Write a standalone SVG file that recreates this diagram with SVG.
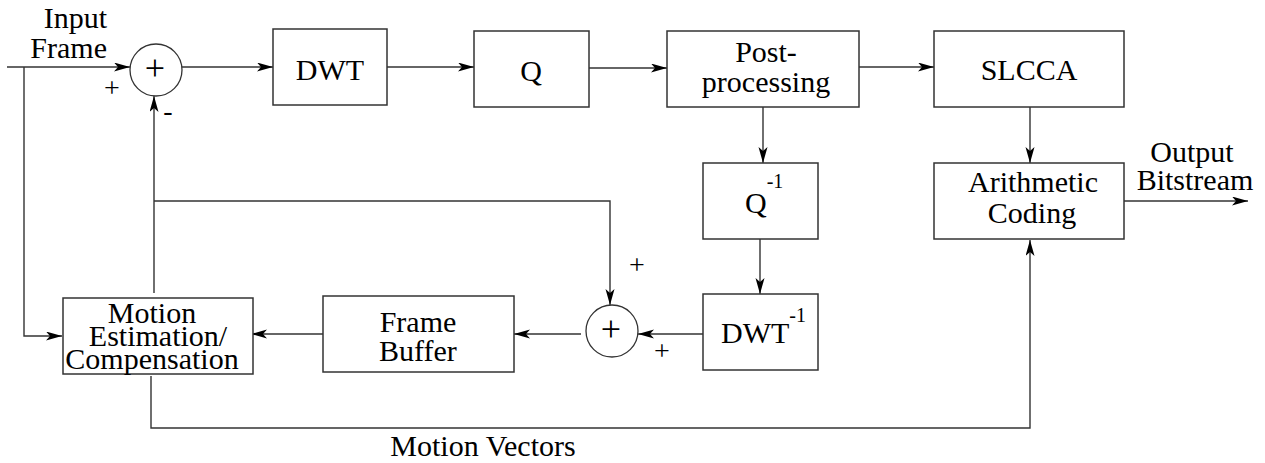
<svg xmlns="http://www.w3.org/2000/svg" width="1265" height="463" viewBox="0 0 1265 463">
<defs>
<style>
.box{fill:#fff;stroke:#333;stroke-width:1.5}
.sum{fill:#fff;stroke:#333;stroke-width:1.3}
.ln{fill:none;stroke:#333;stroke-width:1.4}
.ar{marker-end:url(#arr)}
text{font-family:"Liberation Serif","Times New Roman",serif;font-size:30px;fill:#000}
.c{text-anchor:middle}
.e{text-anchor:end}
.sup{font-size:20px}
.sg{font-size:28px;text-anchor:middle}
.big{font-size:36px;text-anchor:middle}
</style>
<marker id="arr" markerUnits="userSpaceOnUse" markerWidth="18" markerHeight="10" refX="16" refY="4.5" orient="auto">
<path d="M0,0 L16,4.5 L0,9 L4,4.5 z" fill="#000"/>
</marker>
</defs>

<g id="connectors">
<path class="ln ar" d="M7,67 H130"/>
<path class="ln ar" d="M24,67 V336 H62"/>
<path class="ln ar" d="M182,67 H273"/>
<path class="ln ar" d="M387,67 H474"/>
<path class="ln ar" d="M589,68 H667"/>
<path class="ln ar" d="M859,67 H934"/>
<path class="ln ar" d="M1030,107 V163"/>
<path class="ln ar" d="M1124,201 H1248"/>
<path class="ln ar" d="M763,107 V163"/>
<path class="ln ar" d="M760,239 V294"/>
<path class="ln ar" d="M703,334 H638"/>
<path class="ln ar" d="M581,334 H514"/>
<path class="ln ar" d="M323,334 H251"/>
<path class="ln ar" d="M154,293 V96"/>
<path class="ln ar" d="M154,201 H610 V305"/>
<path class="ln ar" d="M151,376 V428 H1030 V240"/>
</g>

<g id="input-label">
<text class="e" x="107" y="28">Input</text>
<text class="e" x="107" y="58">Frame</text>
</g>

<g id="sum1">
<circle class="sum" cx="156" cy="70" r="26"/>
<text class="big" x="155" y="80">+</text>
<text class="sg" x="112" y="97">+</text>
<text class="sg" x="168" y="120">-</text>
</g>

<g id="dwt">
<rect class="box" x="273" y="29" width="114" height="76"/>
<text class="c" x="330" y="80">DWT</text>
</g>

<g id="q">
<rect class="box" x="474" y="31" width="115" height="76"/>
<text class="c" x="531" y="81">Q</text>
</g>

<g id="postprocessing">
<rect class="box" x="667" y="31" width="192" height="76"/>
<text class="c" x="766" y="62">Post-</text>
<text class="c" x="766" y="92">processing</text>
</g>

<g id="slcca">
<rect class="box" x="934" y="31" width="190" height="76"/>
<text class="c" x="1029" y="80">SLCCA</text>
</g>

<g id="arithmetic">
<rect class="box" x="934" y="163" width="190" height="76"/>
<text class="c" x="1033" y="192">Arithmetic</text>
<text class="c" x="1032" y="223">Coding</text>
</g>

<g id="output-label">
<text class="c" x="1192" y="162">Output</text>
<text class="c" x="1195" y="190">Bitstream</text>
</g>

<g id="qinv">
<rect class="box" x="703" y="163" width="115" height="76"/>
<text x="745" y="213">Q<tspan class="sup" dy="-25">-1</tspan></text>
</g>

<g id="dwtinv">
<rect class="box" x="703" y="294" width="115" height="76"/>
<text x="721" y="343">DWT<tspan class="sup" dy="-21">-1</tspan></text>
</g>

<g id="sum2">
<circle class="sum" cx="612" cy="331" r="26"/>
<text class="big" x="611" y="341">+</text>
<text class="sg" x="637" y="274">+</text>
<text class="sg" x="662" y="360">+</text>
</g>

<g id="framebuffer">
<rect class="box" x="323" y="296" width="191" height="76"/>
<text class="c" x="418" y="332">Frame</text>
<text class="c" x="418" y="361">Buffer</text>
</g>

<g id="motion-est">
<rect class="box" x="63" y="298" width="190" height="76"/>
<text class="c" x="152" y="323">Motion</text>
<text class="c" x="158" y="346">Estimation/</text>
<text class="c" x="152" y="369">Compensation</text>
</g>

<g id="mv-label">
<text class="c" x="483" y="456">Motion Vectors</text>
</g>
</svg>
